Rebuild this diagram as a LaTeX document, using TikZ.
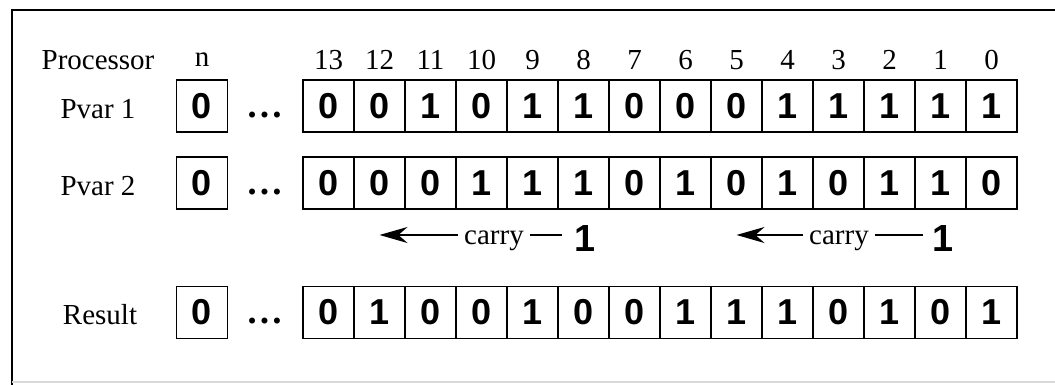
\documentclass[tikz,border=0pt]{standalone}
\usepackage{fontspec}
\setmainfont{Liberation Serif}
\newfontfamily\bitfont{Liberation Sans}
\usetikzlibrary{arrows.meta, positioning}

\begin{document}
\begin{tikzpicture}[
    x=0.2mm, y=-0.2mm,
    >={Stealth[length=5.6mm, width=3.2mm]},
    every node/.style={text=black},
    label/.style={font=\fontsize{16.5}{19}\selectfont},
    bitcell/.style={draw, line width=1.1pt, minimum width=10.2mm,
      minimum height=10.4mm, inner sep=0pt,
      font=\bitfont\bfseries\fontsize{20.5}{22}\selectfont},
    dots/.style={font=\bfseries\fontsize{21}{22}\selectfont},
    carrybit/.style={font=\bitfont\bfseries\fontsize{21.5}{23}\selectfont},
    carryline/.style={line width=0.9pt},
  ]

  \clip (0,0) rectangle (1055,385);

  % Frame (cut off at right and bottom)
  \draw[line width=1.1pt] (12,400) -- (12,10) -- (1070,10);
  \draw[black!15, line width=0.6pt] (12,382) -- (1070,382);

  % === Header row ===
  \node[label] (hproc) at (98,60) {Processor};
  \node[label] (hn) at (202,60) {n};
  \foreach \k in {0,...,13} {
    \pgfmathtruncatemacro{\pos}{13-\k}
    \node[label] (h\pos) at (328.5+51*\k,60) {\pos};
  }

  % === Row labels ===
  \node[label] (lp1) at (98,109) {Pvar 1};
  \node[label] (lp2) at (98,186) {Pvar 2};
  \node[label] (lres) at (100,315) {Result};

  % === Processor n and dots ===
  \node[bitcell] (p1-n) at (202,106) {0};
  \node[bitcell] (p2-n) at (202,183) {0};
  \node[bitcell] (r-n) at (202,312.5) {0};
  \node[dots] (d1) at (265,115) {\ldots};
  \node[dots] (d2) at (265,192) {\ldots};
  \node[dots] (d3) at (265,321) {\ldots};

  % === Registers ===
  \foreach \bit [count=\i from 0] in {0,0,1,0,1,1,0,0,0,1,1,1,1,1} {
    \pgfmathtruncatemacro{\pos}{13-\i}
    \node[bitcell] (p1-\pos) at (328.5+51*\i,106) {\bit};
  }
  \foreach \bit [count=\i from 0] in {0,0,0,1,1,1,0,1,0,1,0,1,1,0} {
    \pgfmathtruncatemacro{\pos}{13-\i}
    \node[bitcell] (p2-\pos) at (328.5+51*\i,183) {\bit};
  }
  \foreach \bit [count=\i from 0] in {0,1,0,0,1,0,0,1,1,1,0,1,0,1} {
    \pgfmathtruncatemacro{\pos}{13-\i}
    \node[bitcell] (r-\pos) at (328.5+51*\i,312.5) {\bit};
  }

  % === Carries ===
  \coordinate (tip1) at (379.5,235);
  \node[label] (carry1) at (494,241) {carry};
  \node[carrybit] (one1) at (585,239) {1};
  \draw[carryline, ->] (carry1.west |- tip1) -- (tip1);
  \draw[carryline] (carry1.east |- tip1) -- ([xshift=-1.2mm]one1.west |- tip1);

  \coordinate (tip2) at (736.5,235);
  \node[label] (carry2) at (839,241) {carry};
  \node[carrybit] (one2) at (943,239) {1};
  \draw[carryline, ->] (carry2.west |- tip2) -- (tip2);
  \draw[carryline] (carry2.east |- tip2) -- ([xshift=-0.6mm]one2.west |- tip2);

\end{tikzpicture}
\end{document}
